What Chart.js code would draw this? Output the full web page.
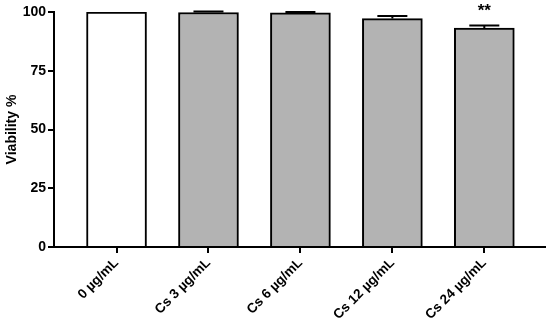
<!DOCTYPE html>
<html>
<head>
<meta charset="utf-8">
<script src="https://cdn.jsdelivr.net/npm/chart.js@4/dist/chart.umd.min.js"></script>
<style>
  html, body { margin: 0; padding: 0; background: #fff; }
  #wrap { width: 550px; height: 323px; }
</style>
</head>
<body>
<div id="wrap"><canvas id="viabilityChart" width="550" height="323"></canvas></div>
<script>
const categories = ["0 µg/mL", "Cs 3 µg/mL", "Cs 6 µg/mL", "Cs 12 µg/mL", "Cs 24 µg/mL"]
const viability = [100, 99.8, 99.6, 97.2, 93.2]
const errors = [0, 0.4, 0.4, 1.1, 1.1]
const significance = ["", "", "", "", "**"]
const yTicks = [0, 25, 50, 75, 100]

const barColors = ["#ffffff", "#b3b3b3", "#b3b3b3", "#b3b3b3", "#b3b3b3"]
const font = { family: "'Liberation Sans', Arial, sans-serif", weight: "bold" }

// error bars (upper half only) and the significance stars
const errorBarPlugin = {
	id: "errorBars",
	afterDatasetsDraw(chart) {
		const ctx = chart.ctx
		const y = chart.scales.y
		const meta = chart.getDatasetMeta(0)
		ctx.save()
		ctx.strokeStyle = "#000"
		ctx.lineWidth = 2
		meta.data.forEach((bar, i) => {
			const top = y.getPixelForValue(viability[i] + errors[i])
			if (errors[i] > 0) {
				ctx.beginPath()
				ctx.moveTo(bar.x, bar.y)
				ctx.lineTo(bar.x, top)
				ctx.moveTo(bar.x - 15, top)
				ctx.lineTo(bar.x + 15, top)
				ctx.stroke()
			}
			if (significance[i]) {
				ctx.fillStyle = "#000"
				ctx.font = "bold 17px 'Liberation Sans', Arial, sans-serif"
				ctx.textAlign = "center"
				ctx.textBaseline = "middle"
				ctx.fillText(significance[i], bar.x, top - 14)
			}
		})
		ctx.restore()
	}
}

const ctx = document.getElementById("viabilityChart").getContext("2d")
const chart = new Chart(ctx, {
	type: "bar",
	data: {
		datasets: [
			{
				data: viability.map((v, i) => ({ x: i, y: v })),
				backgroundColor: barColors,
				borderColor: "#000",
				borderWidth: 2,
				barThickness: 60,
			},
		],
	},
	options: {
		responsive: false,
		animation: false,
		layout: { padding: { top: 12, right: 5, left: 0, bottom: 0 } },
		plugins: {
			legend: { display: false },
			tooltip: { enabled: false },
		},
		scales: {
			x: {
				type: "linear",
				offset: false,
				min: -0.68,
				max: 4.66,
				afterBuildTicks: scale => {
					scale.ticks = categories.map((_, i) => ({ value: i }))
				},
				afterFit: scale => { scale.height = 76 },
				ticks: {
					color: "#000",
					font: { ...font, size: 13.5 },
					minRotation: 45,
					maxRotation: 45,
					padding: 2,
					callback: value => categories[value],
				},
				grid: {
					offset: false,
					drawOnChartArea: false,
					color: "#000",
					lineWidth: 2,
					tickLength: 6,
				},
				border: { color: "#000", width: 2 },
			},
			y: {
				min: 0,
				max: 100,
				afterBuildTicks: scale => {
					scale.ticks = yTicks.map(v => ({ value: v }))
				},
				afterFit: scale => { scale.width = 54 },
				ticks: {
					color: "#000",
					font: { ...font, size: 14 },
					padding: 2,
				},
				title: {
					display: true,
					text: "Viability %",
					color: "#000",
					font: { ...font, size: 14 },
					padding: { top: 4, bottom: 0 },
				},
				grid: {
					drawOnChartArea: false,
					color: "#000",
					lineWidth: 2,
					tickLength: 6,
				},
				border: { color: "#000", width: 2 },
			},
		},
	},
	plugins: [errorBarPlugin],
})
</script>
</body>
</html>
